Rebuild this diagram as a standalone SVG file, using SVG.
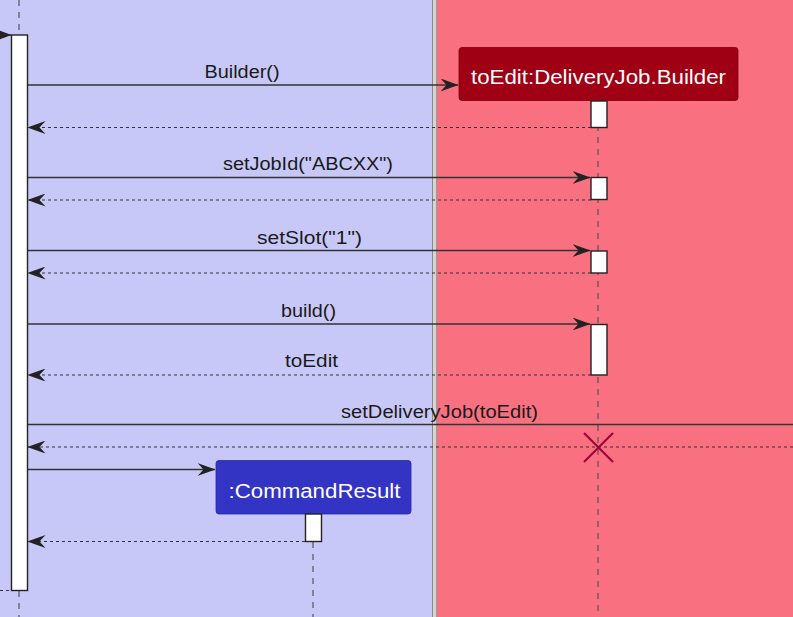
<svg xmlns="http://www.w3.org/2000/svg" width="793" height="617" viewBox="0 0 793 617">
<style>
.lbl{font-family:"Liberation Sans",Arial,sans-serif;font-size:18px;fill:#1a1a1a;text-anchor:middle}
.ttl{font-family:"Liberation Sans",Arial,sans-serif;font-size:20px;fill:#fff;text-anchor:middle}
.life{stroke:#555;stroke-width:1.2;stroke-dasharray:6,6;fill:none}
.act{fill:#fff;stroke:#222;stroke-width:1.4}
.msg{stroke:#333;stroke-width:1.4;fill:none;marker-end:url(#ah)}
.ret{stroke:#333;stroke-width:1.2;stroke-dasharray:3,3;fill:none;marker-end:url(#ah)}
</style>
<defs>
<marker id="ah" viewBox="0 0 18 13" refX="17.5" refY="6.5" markerWidth="18" markerHeight="13" markerUnits="userSpaceOnUse" orient="auto">
<path d="M0,0 L18,6.5 L0,13 L6,6.5 Z" fill="#222"/>
</marker>
</defs>
<g id="lanes">
<rect x="0" y="0" width="433" height="617" fill="#C8C8F8"/>
<rect x="433" y="0" width="3" height="617" fill="#D4D4D4"/>
<line x1="432.5" y1="0" x2="432.5" y2="617" stroke="#8A8A8A" stroke-width="1"/>
<line x1="436.5" y1="0" x2="436.5" y2="617" stroke="#9A9A9A" stroke-width="1"/>
<rect x="437" y="0" width="356" height="617" fill="#F97080"/>
</g>
<g id="main">
<line class="life" x1="19" y1="0" x2="19" y2="35"/>
<line class="life" x1="19" y1="591" x2="19" y2="617"/>
<rect class="act" x="11.5" y="35" width="16" height="555.5"/>
</g>
<g id="builder">
<line class="life" x1="598" y1="101" x2="598" y2="617"/>
<rect x="459" y="47.5" width="279" height="53" rx="3" fill="#A00014" stroke="#7A0010" stroke-width="0.8"/>
<text class="ttl" x="598.5" y="84" textLength="255" lengthAdjust="spacingAndGlyphs">toEdit:DeliveryJob.Builder</text>
<rect class="act" x="591" y="101" width="16" height="26.5"/>
<rect class="act" x="591" y="177.5" width="16" height="22"/>
<rect class="act" x="591" y="251" width="16" height="22"/>
<rect class="act" x="591" y="324.5" width="16" height="50.5"/>
<g stroke="#A5003A" stroke-width="2.2">
<line x1="584" y1="433" x2="613" y2="462"/>
<line x1="613" y1="433" x2="584" y2="462"/>
</g>
</g>
<g id="commandresult">
<line class="life" x1="313" y1="542" x2="313" y2="617"/>
<rect x="216" y="460.5" width="195" height="53.5" rx="3" fill="#3333C4" stroke="#2A2A99" stroke-width="0.8"/>
<text class="ttl" x="314.5" y="497.5" textLength="172" lengthAdjust="spacingAndGlyphs">:CommandResult</text>
<rect class="act" x="305.5" y="514" width="16" height="27.5"/>
</g>
<g id="connectors">
<line class="msg" x1="0" y1="35" x2="11" y2="35"/>
<line class="msg" x1="28" y1="85" x2="458" y2="85"/>
<text class="lbl" x="242" y="78" textLength="75" lengthAdjust="spacingAndGlyphs">Builder()</text>
<line class="ret" x1="591" y1="127.5" x2="28" y2="127.5"/>
<line class="msg" x1="28" y1="177.5" x2="590" y2="177.5"/>
<text class="lbl" x="308" y="170" textLength="170" lengthAdjust="spacingAndGlyphs">setJobId("ABCXX")</text>
<line class="ret" x1="591" y1="200" x2="28" y2="200"/>
<line class="msg" x1="28" y1="250.5" x2="590" y2="250.5"/>
<text class="lbl" x="309.5" y="244" textLength="105" lengthAdjust="spacingAndGlyphs">setSlot("1")</text>
<line class="ret" x1="591" y1="273" x2="28" y2="273"/>
<line class="msg" x1="28" y1="324" x2="590" y2="324"/>
<text class="lbl" x="308.5" y="317" textLength="55" lengthAdjust="spacingAndGlyphs">build()</text>
<line class="ret" x1="591" y1="375" x2="28" y2="375"/>
<text class="lbl" x="311.5" y="367" textLength="53" lengthAdjust="spacingAndGlyphs">toEdit</text>
<line x1="28" y1="424.5" x2="793" y2="424.5" stroke="#333" stroke-width="1.4"/>
<text class="lbl" x="439.5" y="418" textLength="197" lengthAdjust="spacingAndGlyphs">setDeliveryJob(toEdit)</text>
<line class="ret" x1="793" y1="447" x2="28" y2="447"/>
<line class="msg" x1="28" y1="469.5" x2="215" y2="469.5"/>
<line class="ret" x1="305" y1="541.5" x2="28" y2="541.5"/>
<line x1="0" y1="590.5" x2="11" y2="590.5" stroke="#333" stroke-width="1.2" stroke-dasharray="3,3"/>
</g>
</svg>
